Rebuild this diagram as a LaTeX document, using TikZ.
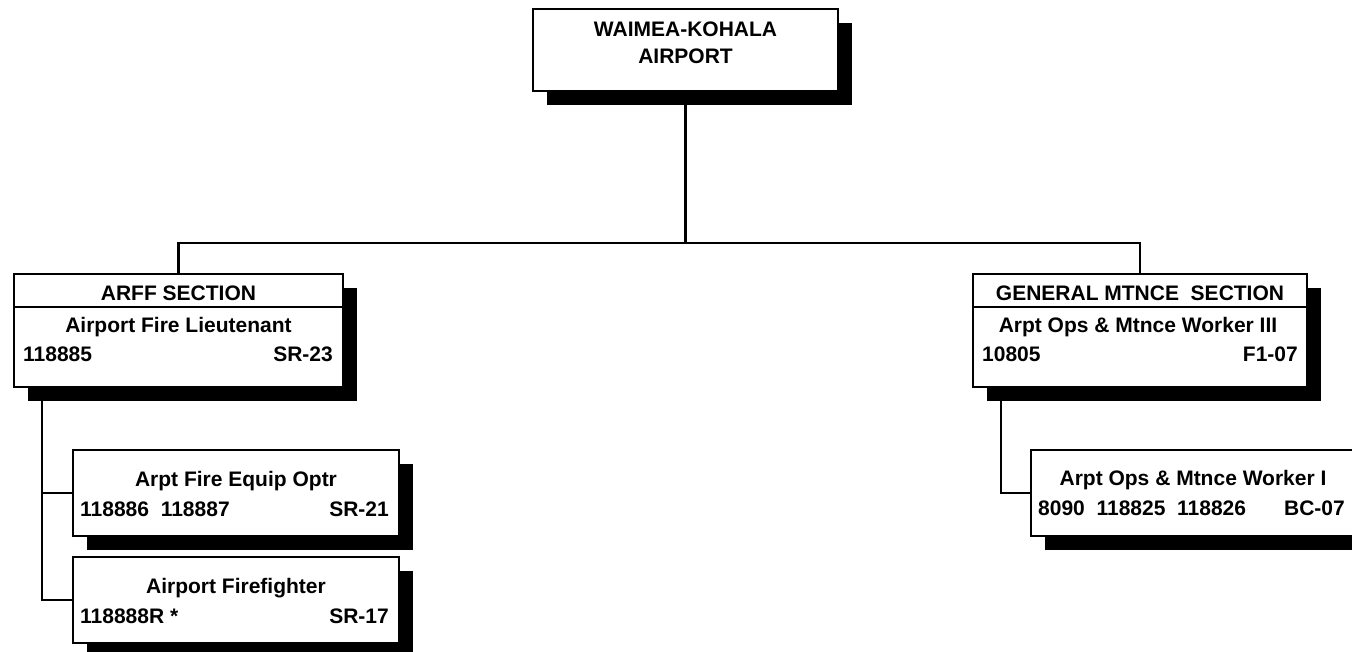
\documentclass[tikz,border=0pt]{standalone}
\usepackage{fontspec}
\setmainfont{Liberation Sans}
\usetikzlibrary{shadows,backgrounds}
\begin{document}
\begin{tikzpicture}[x=1pt,y=-1pt,
  box/.style={draw=black, line width=2.4pt, fill=white, rectangle, inner sep=0pt,
    drop shadow={shadow xshift=14pt, shadow yshift=-14pt, opacity=1, fill=black}},
  txt/.style={inner sep=0pt, font=\fontsize{21}{27}\selectfont\bfseries},
  conn/.style={draw=black, line width=2.4pt}]
\useasboundingbox (0,0) rectangle (1352,652);

% boxes
\node[box, minimum width=305pt, minimum height=82pt] (top) at (685.5,50) {};
\node[box, minimum width=329pt, minimum height=113pt] (arff) at (178.5,330.5) {};
\node[box, minimum width=334pt, minimum height=113pt] (gen) at (1140,330.5) {};
\node[box, minimum width=326pt, minimum height=86pt] (equip) at (236,493) {};
\node[box, minimum width=326pt, minimum height=86pt] (ff) at (236,600) {};
\node[box, minimum width=324pt, minimum height=86pt] (wk1) at (1193,493) {};

% header dividers
\draw[conn] ([yshift=-34pt]arff.north west) -- ([yshift=-34pt]arff.north east);
\draw[conn] ([yshift=-34pt]gen.north west) -- ([yshift=-34pt]gen.north east);

% texts
\node[txt, anchor=base] (t1) at (685.5,37) {WAIMEA-KOHALA};
\node[txt, anchor=base] (t2) at (685.5,64) {AIRPORT};

\node[txt, anchor=base] (a1) at (178.5,301) {ARFF SECTION};
\node[txt, anchor=base] (a2) at (178.5,333) {Airport Fire Lieutenant};
\node[txt, anchor=base west] (a3) at (23,361) {118885};
\node[txt, anchor=base east] (a4) at (333,361) {SR-23};

\node[txt, anchor=base] (g1) at (1140,301) {GENERAL MTNCE\ \ SECTION};
\node[txt, anchor=base] (g2) at (1138,333) {Arpt Ops \& Mtnce Worker III};
\node[txt, anchor=base west] (g3) at (982,361) {10805};
\node[txt, anchor=base east] (g4) at (1298,361) {F1-07};

\node[txt, anchor=base] (e1) at (236,486) {Arpt Fire Equip Optr};
\node[txt, anchor=base west] (e2) at (80,516) {118886\ \ 118887};
\node[txt, anchor=base east] (e3) at (389,516) {SR-21};

\node[txt, anchor=base] (f1) at (236,593) {Airport Firefighter};
\node[txt, anchor=base west] (f2) at (80,623) {118888R *};
\node[txt, anchor=base east] (f3) at (389,623) {SR-17};

\node[txt, anchor=base] (w1) at (1193,485) {Arpt Ops \& Mtnce Worker I};
\node[txt, anchor=base west] (w2) at (1038,515) {8090\ \ 118825\ \ 118826};
\node[txt, anchor=base east] (w3) at (1345,515) {BC-07};

% connectors
\begin{scope}[on background layer]
\coordinate (bus) at (685.5,243);
\draw[conn] (top.south) -- (bus);
\draw[conn] (arff.north) |- (bus) -| (gen.north);
\coordinate (lbr) at ([xshift=29pt]arff.south west);
\draw[conn] (lbr) |- (equip.west);
\draw[conn] (lbr) |- (ff.west);
\coordinate (rbr) at ([xshift=29pt]gen.south west);
\draw[conn] (rbr) |- (wk1.west);
\end{scope}
\end{tikzpicture}
\end{document}
